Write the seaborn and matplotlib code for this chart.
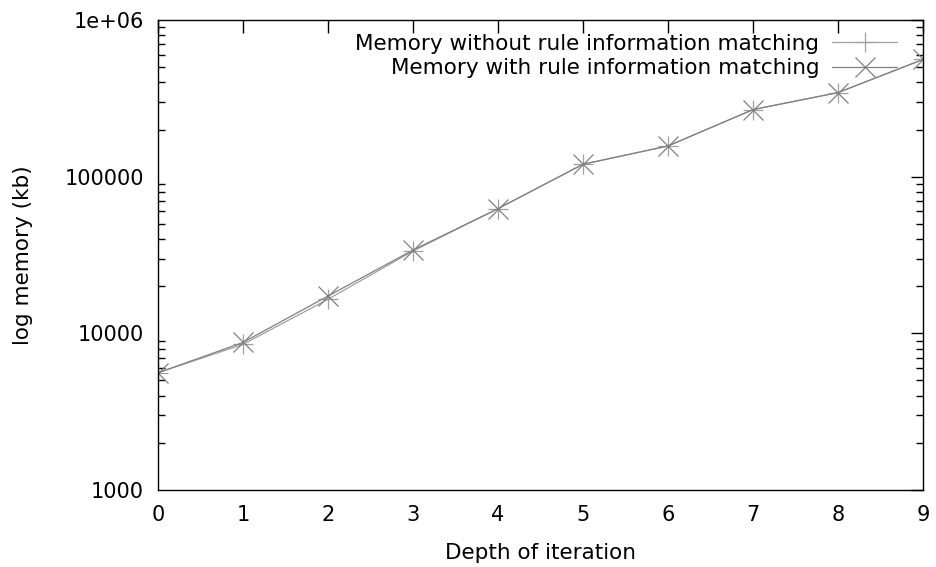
import numpy as np
import pandas as pd
import matplotlib
matplotlib.use("Agg")
import matplotlib.pyplot as plt
import seaborn as sns

# depth of iteration and memory (kb)
depth = [0, 1, 2, 3, 4, 5, 6, 7, 8, 9]
mem_without = [5600, 8500, 16500, 33500, 62500, 120000, 157000, 268000, 344000, 560000]
mem_with = [5600, 8750, 17300, 34000, 62500, 120000, 157000, 268000, 344000, 560000]

label_without = "Memory without rule information matching"
label_with = "Memory with rule information matching"

y_ticks = [1000, 10000, 100000, 1000000]
y_tick_labels = ["1000", "10000", "100000", "1e+06"]

colors = {label_without: "#a0a0a0", label_with: "#808080"}

df = pd.concat([
    pd.DataFrame({"depth": depth, "memory": mem_without, "series": label_without}),
    pd.DataFrame({"depth": depth, "memory": mem_with, "series": label_with}),
])

sns.set_style("white")
plt.rcParams['font.family'] = ['DejaVu Sans']
plt.rcParams['font.size'] = 15
plt.rcParams['text.color'] = 'black'
plt.rcParams['axes.labelcolor'] = 'black'
plt.rcParams['xtick.color'] = 'black'
plt.rcParams['ytick.color'] = 'black'

fig, ax = plt.subplots(figsize=(9.37, 5.67), dpi=100)
fig.subplots_adjust(left=0.1686, right=0.985, top=0.9647, bottom=0.1358)

sns.lineplot(data=df, x="depth", y="memory", hue="series", style="series",
             palette=colors,
             markers={label_without: "+", label_with: "x"}, dashes=False,
             markersize=15, markeredgewidth=0.9, linewidth=0.9, ax=ax)

# seaborn paints marker edges white, line markers need the line colour
for ln in ax.lines:
    ln.set_markeredgecolor(ln.get_color())

ax.set_yscale("log")
ax.set_xlim(0, 9)
ax.set_ylim(1000, 1000000)
ax.set_xticks(depth)
ax.set_yticks(y_ticks)
ax.set_yticklabels(y_tick_labels)
ax.set_xlabel("Depth of iteration", fontsize=15.5)
ax.set_ylabel("log memory (kb)", fontsize=15.5)
ax.yaxis.set_label_coords(-0.1636, 0.5)
ax.xaxis.set_label_coords(0.5, -0.112)

# gnuplot-ish frame: inward ticks on all four sides
for s in ax.spines.values():
    s.set_visible(True)
    s.set_color("black")
    s.set_linewidth(1.0)
ax.tick_params(axis="both", which="major", direction="in", length=9, width=1,
               top=True, right=True, labelsize=15)
ax.tick_params(axis="x", which="major", pad=11)
ax.tick_params(axis="y", which="major", pad=10)
ax.tick_params(axis="y", which="minor", direction="in", length=5, width=1,
               left=True, right=True)
ax.tick_params(axis="x", which="minor", bottom=False, top=False)

leg = ax.legend(loc="upper right", bbox_to_anchor=(1.0026, 1.0298),
                frameon=False, markerfirst=False,
                fontsize=15.5, handlelength=3.0, borderaxespad=0.9,
                labelspacing=0.2, handletextpad=0.6)
for h in leg.legend_handles:
    h.set_markeredgecolor(h.get_color())

fig.savefig("out.png", dpi=100)
